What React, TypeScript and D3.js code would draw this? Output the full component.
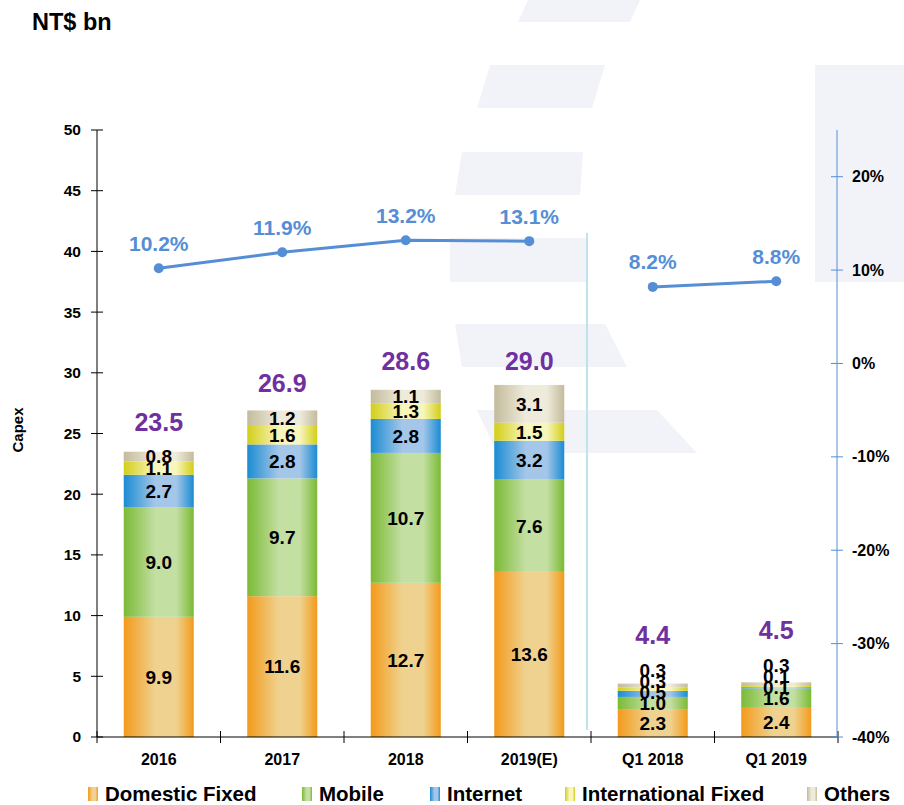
import React from "react";
import * as d3 from "d3";

// Capex, NT$ bn
const categories = ["2016", "2017", "2018", "2019(E)", "Q1 2018", "Q1 2019"];
const domesticFixed = [9.9, 11.6, 12.7, 13.6, 2.3, 2.4];
const mobile = [9.0, 9.7, 10.7, 7.6, 1.0, 1.6];
const internet = [2.7, 2.8, 2.8, 3.2, 0.5, 0.1];
const internationalFixed = [1.1, 1.6, 1.3, 1.5, 0.3, 0.1];
const others = [0.8, 1.2, 1.1, 3.1, 0.3, 0.3];
const totals = [23.5, 26.9, 28.6, 29.0, 4.4, 4.5];
// capex / revenue (%)
const capexRatio = [10.2, 11.9, 13.2, 13.1, 8.2, 8.8];
const leftTicks = [0, 5, 10, 15, 20, 25, 30, 35, 40, 45, 50];
const rightTicks = [-40, -30, -20, -10, 0, 10, 20];

const seriesNames = ["Domestic Fixed", "Mobile", "Internet", "International Fixed", "Others"];
const seriesValues = [domesticFixed, mobile, internet, internationalFixed, others];
// [edge, centre] colours for the cylinder-ish gradient
const seriesColors = [
  ["#F39A1B", "#EFD28F"],
  ["#7BBA35", "#C3DFA2"],
  ["#1A8CD3", "#A4C6E8"],
  ["#D2CE18", "#F8F6BC"],
  ["#C3BB9C", "#EEEBDB"],
];

const W = 904;
const H = 805;
const FONT = "'Liberation Sans', Arial, sans-serif";
const LINE = "#558ED5";

export default function App() {
  const x = d3
    .scaleBand()
    .domain(categories)
    .range([97, 838])
    .paddingInner(0.433)
    .paddingOuter(0.2165);
  const y = d3.scaleLinear().domain([0, 50]).range([737, 130]);
  const yR = d3.scaleLinear().domain([-40, 25]).range([737, 130]);

  const stackData = categories.map((c, i) => {
    const row: any = { cat: c };
    seriesNames.forEach((s, k) => (row[s] = seriesValues[k][i]));
    return row;
  });
  const stacked = d3.stack().keys(seriesNames)(stackData);

  const bw = x.bandwidth();
  const boundaries = d3.range(categories.length + 1).map((i) => 97 + i * x.step());

  // segment label positions: centred, pushed upward when they collide
  const segLabels: any[] = [];
  const topLabelY: number[] = [];
  categories.forEach((c, i) => {
    let prev = Infinity;
    stacked.forEach((layer, k) => {
      const [a, b] = layer[i];
      let cy = y((a + b) / 2);
      cy = Math.min(cy, prev - 11);
      prev = cy;
      segLabels.push({ i, k, cy, v: seriesValues[k][i] });
    });
    topLabelY[i] = prev;
  });

  const annualIdx = [0, 1, 2, 3];
  const quarterIdx = [4, 5];
  const line = d3
    .line<number>()
    .x((i) => x(categories[i])! + bw / 2)
    .y((i) => yR(capexRatio[i]));

  const legendX = [88, 302, 430, 565, 807];

  return (
    <svg
      width={W}
      height={H}
      style={{ position: "absolute", left: 0, top: 0, background: "#fff" }}
      fontFamily={FONT}
    >
      <defs>
        {seriesColors.map(([edge, mid], k) => (
          <linearGradient id={`g${k}`} key={k} x1="0" x2="1" y1="0" y2="0">
            <stop offset="0" stopColor={edge} />
            <stop offset="0.45" stopColor={mid} />
            <stop offset="0.75" stopColor={mid} />
            <stop offset="1" stopColor={edge} />
          </linearGradient>
        ))}
      </defs>

      {/* faint watermark */}
      <g fill="#F2F3F9">
        <polygon points="528,0 640,0 630,22 518,22" />
        <polygon points="490,65 605,65 592,108 477,108" />
        <polygon points="462,152 583,152 580,195 455,195" />
        <polygon points="450,238 587,238 587,282 450,282" />
        <polygon points="455,324 605,324 627,367 462,367" />
        <polygon points="477,410 657,410 697,453 497,453" />
        <rect x={815} y={65} width={89} height={217} />
      </g>

      <text x={32} y={30} fontWeight="bold" fontSize={23.5}>
        NT$ bn
      </text>

      {/* divider between annual and quarterly */}
      <line x1={boundaries[4] - 4} x2={boundaries[4] - 4} y1={233} y2={730} stroke="#BFE3E8" strokeWidth={2} />

      {/* bars */}
      {stacked.map((layer, k) => (
        <g key={k} fill={`url(#g${k})`}>
          {layer.map((d, i) => (
            <rect key={i} x={x(categories[i])} width={bw} y={y(d[1])} height={y(d[0]) - y(d[1])} />
          ))}
        </g>
      ))}

      {/* segment labels */}
      {segLabels.map((l, n) => (
        <text
          key={n}
          x={x(categories[l.i])! + bw / 2}
          y={l.cy}
          dy="0.36em"
          textAnchor="middle"
          fontWeight="bold"
          fontSize={19}
          fill="#000"
        >
          {l.v.toFixed(1)}
        </text>
      ))}

      {/* totals */}
      {totals.map((t, i) => (
        <text
          key={i}
          x={x(categories[i])! + bw / 2}
          y={Math.min(y(t) - 15, topLabelY[i] - 26)}
          textAnchor="middle"
          fontWeight="bold"
          fontSize={25}
          fill="#7030A0"
        >
          {t.toFixed(1)}
        </text>
      ))}

      {/* left axis */}
      <line x1={97} x2={97} y1={130} y2={737} stroke="#000" />
      {leftTicks.map((t) => (
        <g key={t}>
          <line x1={91} x2={103} y1={y(t)} y2={y(t)} stroke="#000" />
          <text x={81} y={y(t)} dy="0.35em" textAnchor="end" fontWeight="bold" fontSize={15.5}>
            {t}
          </text>
        </g>
      ))}
      <text
        transform={`translate(23,430) rotate(-90)`}
        textAnchor="middle"
        fontWeight="bold"
        fontSize={15}
      >
        Capex
      </text>

      {/* x axis */}
      <line x1={97} x2={838} y1={737} y2={737} stroke="#000" />
      {boundaries.map((b, i) => (
        <line key={i} x1={b} x2={b} y1={731} y2={743} stroke="#000" />
      ))}
      {categories.map((c) => (
        <text
          key={c}
          x={x(c)! + bw / 2}
          y={765}
          textAnchor="middle"
          fontWeight="bold"
          fontSize={16}
        >
          {c}
        </text>
      ))}

      {/* right axis */}
      <line x1={837} x2={837} y1={130} y2={737} stroke={LINE} />
      {rightTicks.map((t) => (
        <g key={t}>
          <line x1={831} x2={843} y1={yR(t)} y2={yR(t)} stroke={LINE} />
          <text x={852} y={yR(t)} dy="0.35em" fontWeight="bold" fontSize={16}>
            {t}%
          </text>
        </g>
      ))}

      {/* capex ratio line */}
      {[annualIdx, quarterIdx].map((idx, n) => (
        <path key={n} d={line(idx)!} fill="none" stroke={LINE} strokeWidth={3} />
      ))}
      {capexRatio.map((v, i) => (
        <g key={i}>
          <circle cx={x(categories[i])! + bw / 2} cy={yR(v)} r={5} fill={LINE} />
          <text
            x={x(categories[i])! + bw / 2}
            y={yR(v) - 17.5}
            textAnchor="middle"
            fontWeight="bold"
            fontSize={21}
            fill={LINE}
          >
            {v.toFixed(1)}%
          </text>
        </g>
      ))}

      {/* legend */}
      {seriesNames.map((s, k) => (
        <g key={s}>
          <rect x={legendX[k]} y={787} width={10} height={14} fill={`url(#g${k})`} />
          <text x={legendX[k] + 17} y={801} fontWeight="bold" fontSize={20.5}>
            {s}
          </text>
        </g>
      ))}
    </svg>
  );
}
